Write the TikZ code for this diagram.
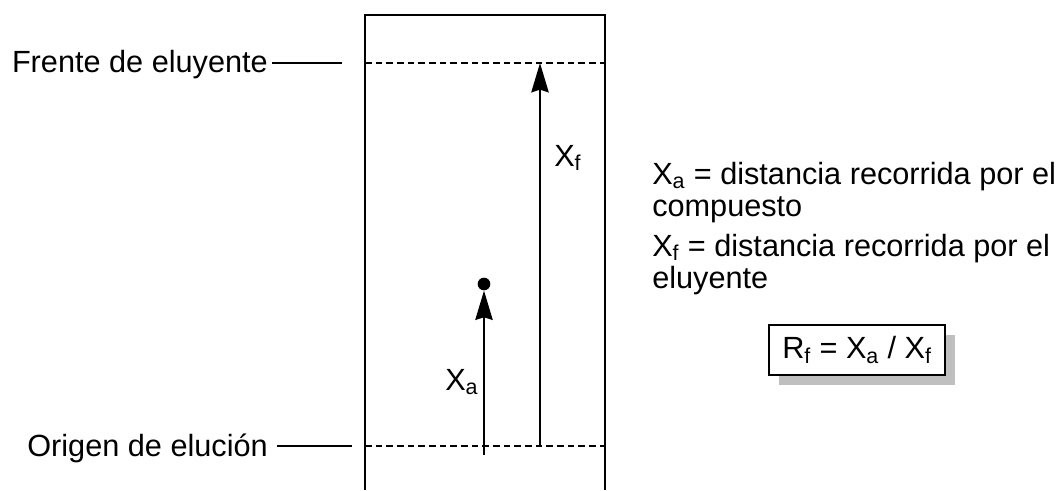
\documentclass[tikz,border=0pt]{standalone}
\usepackage{fontspec}
\setmainfont{Liberation Sans}
\usetikzlibrary{arrows.meta,positioning,shadows}

\tikzset{
  rotulo/.style={font=\fontsize{23}{24}\selectfont, inner sep=0pt},
  borde/.style={line width=2pt},
  guia/.style={line width=1.5pt},
  nivel/.style={line width=1.6pt, dash pattern=on 5pt off 3pt},
  recorrido/.style={line width=1.5pt, -{Stealth[length=22pt,width=13pt,inset=2pt]}},
}

\begin{document}
\begin{tikzpicture}[x=0.75pt,y=-0.75pt]
  \useasboundingbox (0,0) rectangle (1062,490);
  % placa
  \draw[borde] (365,490) -- (365,15) -- (605,15) -- (605,490);
  % frente y origen
  \coordinate (fI) at (365,63);
  \coordinate (fD) at (605,63);
  \coordinate (oI) at (365,446);
  \coordinate (oD) at (605,446);
  \draw[nivel] (fI) -- (fD);
  \draw[nivel] (oI) -- (oD);
  % rotulos de la izquierda
  \node[rotulo, anchor=base east] (frente) at (268,72) {Frente de eluyente};
  \node[rotulo, anchor=base east] (origen) at (268,456) {Origen de elución};
  \coordinate (fL) at (342,63);
  \coordinate (oL) at (352,446);
  \draw[guia] ([xshift=3pt]frente.east |- fL) -- (fL);
  \draw[guia] ([xshift=7pt]origen.east |- oL) -- (oL);
  % mancha y distancias
  \node[circle, fill, inner sep=0pt, minimum size=9.5pt] (mancha) at (484,284) {};
  \coordinate (baseXa) at (484,455);
  \coordinate (baseXf) at (540,446);
  \draw[recorrido] (baseXa) -- (mancha.south);
  \draw[recorrido] (baseXf) -- (baseXf |- fI);
  \node[rotulo, anchor=base west] (Xa) at (445,390) {X\textsubscript{a}};
  \node[rotulo, anchor=base west] (Xf) at (554,166) {X\textsubscript{f}};
  % definiciones
  \node[rotulo, anchor=base west, align=left] (defXa) at (652,216)
    {X\textsubscript{a} = distancia recorrida por el\\compuesto};
  \node[rotulo, anchor=base west, align=left] (defXf) at (652,288)
    {X\textsubscript{f} = distancia recorrida por el\\eluyente};
  \node[rotulo, draw, line width=1.5pt, fill=white, minimum width=132pt, minimum height=37pt,
        drop shadow={fill=gray!50, opacity=1, shadow xshift=7.5pt, shadow yshift=-7.5pt}]
    (razon) at (857,350) {R\textsubscript{f} = X\textsubscript{a} / X\textsubscript{f}};
\end{tikzpicture}
\end{document}
